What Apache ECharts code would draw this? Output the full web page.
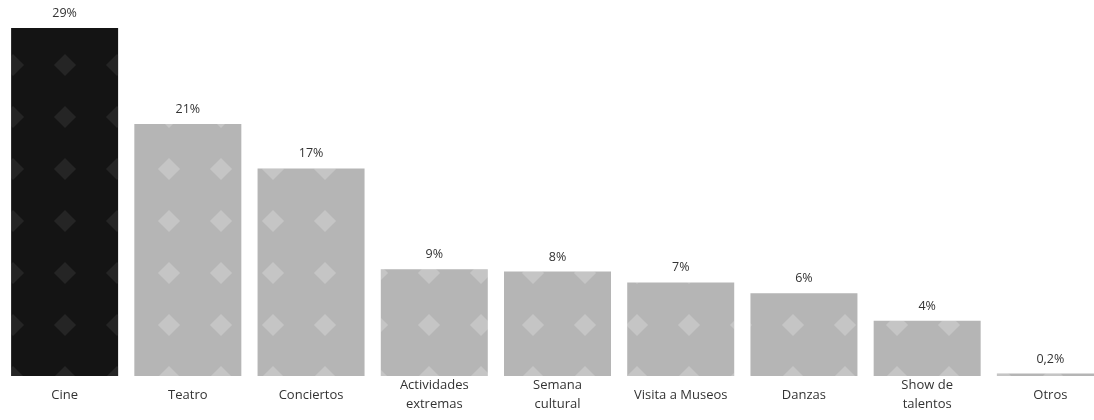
<!DOCTYPE html>
<html>
<head>
<meta charset="utf-8">
<script src="https://cdn.jsdelivr.net/npm/echarts@6/dist/echarts.min.js"></script>
<style>
  html, body { margin: 0; padding: 0; background: #fff; }
  #chart { width: 1094px; height: 420px; }
</style>
</head>
<body>
<div id="chart"></div>
<script>
// categorias del eje x
const categorias = ['Cine', 'Teatro', 'Conciertos', 'Actividades\nextremas', 'Semana\ncultural',
  'Visita a Museos', 'Danzas', 'Show de\ntalentos', 'Otros'];
const valores = [29, 21, 17.3, 8.9, 8.7, 7.8, 6.9, 4.6, 0.2];
// etiquetas impresas sobre cada barra
const etiquetas = ['29%', '21%', '17%', '9%', '8%', '7%', '6%', '4%', '0,2%'];

let myChart = echarts.init(document.getElementById('chart'));

// textura aproximada de la trama de las barras
let grisDecal = {
  symbol: 'diamond',
  symbolSize: 0.85,
  dashArrayX: 26,
  dashArrayY: 26,
  color: 'rgba(255,255,255,0.22)'
};
let negroDecal = {
  symbol: 'diamond',
  symbolSize: 0.85,
  dashArrayX: 26,
  dashArrayY: 26,
  color: 'rgba(70,70,70,0.35)'
};

let option = {
  backgroundColor: '#fff',
  animation: false,
  grid: {
    left: 3,
    right: -18,
    top: 28,
    bottom: 44,
    containLabel: false,
    outerBoundsMode: 'none'
  },
  xAxis: {
    type: 'category',
    data: categorias,
    axisLine: { show: false },
    axisTick: { show: false },
    axisLabel: {
      interval: 0,
      margin: 19,
      verticalAlign: 'middle',
      lineHeight: 19,
      color: '#333',
      fontFamily: 'Open Sans',
      fontSize: 13
    }
  },
  yAxis: {
    type: 'value',
    min: 0,
    max: 29,
    show: false,
    splitLine: { show: false }
  },
  series: [{
    type: 'bar',
    barWidth: 107,
    data: valores.map((v, i) => ({
      value: v,
      itemStyle: i === 0
        ? { color: '#141414', decal: negroDecal }
        : { color: '#b5b5b5', decal: grisDecal }
    })),
    label: {
      show: true,
      position: 'top',
      distance: 8,
      color: '#333',
      fontFamily: 'Open Sans',
      fontSize: 12.5,
      formatter: p => etiquetas[p.dataIndex]
    }
  }]
};
myChart.setOption(option);
</script>
</body>
</html>
